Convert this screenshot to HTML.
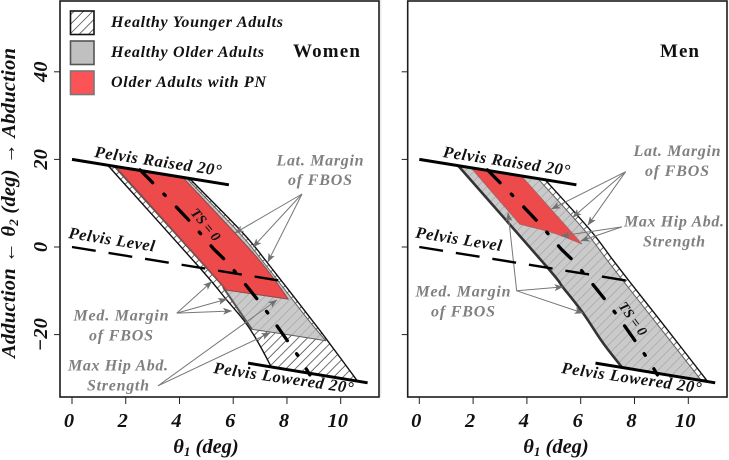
<!DOCTYPE html>
<html lang="en">
<head>
<meta charset="utf-8">
<title>Women and Men Trunk Stability Regions</title>
<style>
html,body{margin:0;padding:0;background:#fff;width:729px;height:460px;overflow:hidden}
svg{display:block}
text{font-family:"Liberation Serif",serif;font-weight:bold;font-style:italic}
.note{fill:#808080;font-size:16px;text-anchor:middle}
.leg{fill:#111;font-size:16px}
.line-label{fill:#111;font-size:16.5px}
.axis-title{fill:#111;font-size:20.5px}
</style>
</head>
<body>
<svg id="chart" width="729" height="460" viewBox="0 0 729 460" xmlns="http://www.w3.org/2000/svg">
<defs>
<pattern id="hatch" width="6.6" height="6.6" patternUnits="userSpaceOnUse" patternTransform="rotate(45)">
<line x1="1" y1="0" x2="1" y2="6.6" stroke="#222" stroke-width="0.65"></line>
</pattern>
<marker id="arrow" markerWidth="10" markerHeight="8" refX="8.5" refY="3.5" orient="auto" markerUnits="userSpaceOnUse">
<path d="M0,0 L9,3.5 L0,7 L2.2,3.5 Z" fill="#707070"></path>
</marker>
</defs>
<rect x="0" y="0" width="729" height="460" fill="#ffffff"></rect>
<rect x="380" y="0" width="1.5" height="397" fill="#ececec"></rect>
<g id="women"></g>
<g id="men"></g>

<g>
<rect x="70.5" y="11" width="23.5" height="23.5" fill="url(#hatch)" stroke="#111" stroke-width="1.6"></rect>
<rect x="70.5" y="41" width="23.5" height="23.5" fill="#c0c0c0" stroke="#555" stroke-width="1.6"></rect>
<rect x="70.5" y="71" width="23.5" height="23.5" fill="#fc5356" stroke="#777" stroke-width="1.6"></rect>
<text class="leg" x="111" y="27" textLength="172">Healthy Younger Adults</text>
<text class="leg" x="111" y="57" textLength="153">Healthy Older Adults</text>
<text class="leg" x="111" y="87" textLength="155">Older Adults with PN</text>
</g>
<text x="293" y="57" font-size="19" fill="#111" textLength="67" style="font-style:normal">Women</text>
<text x="660" y="57" font-size="19" fill="#111" textLength="39" style="font-style:normal">Men</text>

<text class="axis-title" transform="translate(15,203) rotate(-90)" text-anchor="middle" textLength="310">Adduction ← θ<tspan font-size="13" dy="3">2</tspan><tspan dy="-3"> (deg) → Abduction</tspan></text>
<text class="axis-title" x="206" y="453" text-anchor="middle">θ<tspan font-size="13" dy="3">1</tspan><tspan dy="-3"> (deg)</tspan></text>
<text class="axis-title" x="556" y="453" text-anchor="middle">θ<tspan font-size="13" dy="3">1</tspan><tspan dy="-3"> (deg)</tspan></text>

<g>
<text class="line-label" transform="translate(94,157) rotate(8.5)" textLength="128">Pelvis Raised 20°</text>
<text class="line-label" transform="translate(68,238) rotate(9)" textLength="87">Pelvis Level</text>
<text class="line-label" transform="translate(213,373) rotate(8.3)" textLength="141">Pelvis Lowered 20°</text>
<text class="note" x="320" y="165.5" textLength="87">Lat. Margin</text>
<text class="note" x="320" y="185" textLength="64">of FBOS</text>
<text class="note" x="121" y="320.5" textLength="95">Med. Margin</text>
<text class="note" x="121" y="340.5" textLength="64">of FBOS</text>
<text class="note" x="118" y="370.5" textLength="100">Max Hip Abd.</text>
<text class="note" x="118" y="390.5" textLength="62">Strength</text>
<text transform="translate(190,213) rotate(50)" font-size="14" fill="#111" textLength="38">TS = 0</text>
</g>
<g>
<text class="line-label" transform="translate(442.5,157) rotate(8.5)" textLength="128">Pelvis Raised 20°</text>
<text class="line-label" transform="translate(415,237.5) rotate(9)" textLength="87">Pelvis Level</text>
<text class="line-label" transform="translate(561,373) rotate(8.3)" textLength="141">Pelvis Lowered 20°</text>
<text class="note" x="677" y="156" textLength="87">Lat. Margin</text>
<text class="note" x="677" y="176" textLength="64">of FBOS</text>
<text class="note" x="674" y="226.5" textLength="100">Max Hip Abd.</text>
<text class="note" x="674" y="246.5" textLength="62">Strength</text>
<text class="note" x="463" y="296.5" textLength="95">Med. Margin</text>
<text class="note" x="463" y="316.5" textLength="64">of FBOS</text>
<text transform="translate(618,306) rotate(54)" font-size="14" fill="#111" textLength="38">TS = 0</text>
</g>
</svg>
<script>
const xTicks = [0, 2, 4, 6, 8, 10];
const yTicks = [40, 20, 0, -20];
const pelvisRaised = [[0, 20], [5.84, 14.2]];
const pelvisLevel = [[0, 0], [7.74, -7.7]];
const pelvisLowered = [[6.55, -26.5], [11.0, -31.0]];
const tsZero = [[2.53, 17.6], [3.53, 11.4], [4.43, 5.6], [5.28, -0.5], [5.77, -3.4], [6.55, -9.3], [7.06, -13.2], [7.40, -16], [8.2, -23], [8.55, -26], [8.85, -29.2]];

const womenYoungerLeft = [[1.34, 18.6], [4.76, -4.8], [5.69, -11.6], [6.44, -17.1], [6.92, -21.7], [7.41, -27.3]];
const womenYoungerRight = [[4.43, 15.3], [6.33, 3.4], [7.22, -3.2], [8.93, -16.7], [9.49, -21.2], [10.61, -30.5]];
const womenOlderLeft = [[1.60, 18.3], [5.32, -6.8], [5.69, -9.8], [6.69, -18.8]];
const womenOlderBottom = [[6.69, -18.8], [8.11, -20.1], [9.45, -21.4]];
const womenOlderRight = [[4.30, 15.5], [6.20, 3.4], [7.09, -3.2], [8.80, -16.7], [9.45, -21.4]];
const womenPNLeft = [[1.66, 18.1], [5.32, -6.8], [5.69, -9.8]];
const womenPNBottom = [[5.69, -9.8], [8.05, -11.9]];
const womenPNRight = [[4.14, 15.8], [6.86, -2.2], [8.05, -11.9]];

const menYoungerLeft = [[1.44, 18.6], [4.75, -4.6], [5.34, -9.2], [6.09, -15.1], [6.83, -21.9], [7.54, -27.5]];
const menYoungerRight = [[4.67, 15.4], [6.35, 3.9], [7.2, -3], [7.83, -8], [9.2, -18.7], [10.69, -30.5]];
const menOlderLeft = [[1.44, 18.6], [4.75, -4.6], [5.34, -9.2], [6.09, -15.1], [6.83, -21.9], [7.54, -27.5]];
const menOlderBottom = [[7.54, -27.5], [10.45, -30.2]];
const menOlderRight = [[4.41, 15.6], [6.13, 3.9], [6.98, -3], [7.61, -8], [8.98, -18.7], [10.45, -30.2]];
const menPNLeft = [[1.95, 17.9], [3.74, 5.2]];
const menPNBottom = [[3.74, 5.2], [5.0, 3.2], [6.04, 0.7]];
const menPNRight = [[3.81, 16.1], [6.04, 0.7]];

const womenLatFrom = [8.56, 12.1];
const womenLatTo = [[6.07, 3.2], [6.74, 0], [7.29, -3.4]];
const womenMedFrom = [3.9, -15.1];
const womenMedTo = [[5.2, -7.9], [5.76, -11.9], [5.94, -14.6]];
const womenMaxFrom = [3.2, -31.7];
const womenMaxTo = [[7.62, -12.1], [7.37, -19.6]];
const menLatFrom = [7.67, 17.2];
const menLatTo = [[4.92, 8.7], [5.71, 6.8], [6.27, 5]];
const menMaxFrom = [7.53, 4.6];
const menMaxTo = [[5.27, 2.5], [6.01, 1.4]];
const menMedFrom = [3.62, -10];
const menMedTo = [[3.3, 7.8], [5.34, -9.1], [6.09, -15.1]];

const NS = 'http://www.w3.org/2000/svg';

function mk(parent, tag, attrs, txt) {
  const el = document.createElementNS(NS, tag);
  Object.keys(attrs).forEach(function (k) { el.setAttribute(k, attrs[k]); });
  if (txt !== undefined) el.textContent = txt;
  parent.appendChild(el);
  return el;
}

function smoothEdge(p) {
  let d = '';
  for (let i = 0; i < p.length - 1; i++) {
    const a = p[Math.max(i - 1, 0)], b = p[i], c = p[i + 1], e = p[Math.min(i + 2, p.length - 1)];
    const c1x = b[0] + (c[0] - a[0]) / 6, c1y = b[1] + (c[1] - a[1]) / 6;
    const c2x = c[0] - (e[0] - b[0]) / 6, c2y = c[1] - (e[1] - b[1]) / 6;
    d += ' C' + c1x.toFixed(1) + ',' + c1y.toFixed(1) + ' ' + c2x.toFixed(1) + ',' + c2y.toFixed(1) + ' ' + c[0].toFixed(1) + ',' + c[1].toFixed(1);
  }
  return d;
}

function drawPanel(cfg) {
  const g = document.getElementById(cfg.id);
  const sx = function (v) { return cfg.x0 + cfg.xs * v; };
  const sy = function (v) { return 247 - 4.38 * v; };
  const toPx = function (a) { return a.map(function (p) { return [sx(p[0]), sy(p[1])]; }); };
  const pts = function (a) { return toPx(a).map(function (p) { return p[0].toFixed(1) + ',' + p[1].toFixed(1); }).join(' '); };
  const region = function (edges) {
    let d = '';
    edges.forEach(function (edge, i) {
      const px = toPx(edge);
      d += (i === 0 ? 'M' : ' L') + px[0][0].toFixed(1) + ',' + px[0][1].toFixed(1) + smoothEdge(px);
    });
    return d + ' Z';
  };
  const open = function (edge) {
    const px = toPx(edge);
    return 'M' + px[0][0].toFixed(1) + ',' + px[0][1].toFixed(1) + smoothEdge(px);
  };

  const younger = mk(g, 'path', { d: region([cfg.youngerLeft, cfg.youngerRight.slice().reverse()]), fill: 'url(#hatch)', stroke: '#111', 'stroke-width': 1.4, 'stroke-linejoin': 'round' });
  
  

  const older = mk(g, 'path', { d: region([cfg.olderLeft, cfg.olderBottom, cfg.olderRight.slice().reverse()]), fill: 'rgba(190,190,190,0.82)', stroke: '#606060', 'stroke-width': 1, 'stroke-linejoin': 'round' });
  
  

  const olderEdge = mk(g, 'path', { d: open(cfg.olderLeft), fill: 'none', stroke: cfg.olderEdgeColor, 'stroke-width': cfg.olderEdgeWidth });
  
  

  const pn = mk(g, 'path', { d: region([cfg.pnLeft, cfg.pnBottom, cfg.pnRight.slice().reverse()]), fill: 'rgba(240,66,66,0.93)', stroke: cfg.pnStroke, 'stroke-width': 1, 'stroke-linejoin': 'round' });
  
  

  cfg.arrows.forEach(function (set) {
    set.to.forEach(function (t) {
      const a = mk(g, 'line', { x1: sx(set.from[0]), y1: sy(set.from[1]), x2: sx(t[0]), y2: sy(t[1]), stroke: '#777', 'stroke-width': 1, 'marker-end': 'url(#arrow)' });
      
      
    });
  });

  const raised = mk(g, 'polyline', { points: pts(pelvisRaised), fill: 'none', stroke: '#000', 'stroke-width': 3 });
  
  

  const level = mk(g, 'polyline', { points: pts(pelvisLevel), fill: 'none', stroke: '#000', 'stroke-width': 2.4, 'stroke-dasharray': '24 13' });
  
  

  const lowered = mk(g, 'polyline', { points: pts(pelvisLowered), fill: 'none', stroke: '#000', 'stroke-width': 3 });
  
  

  const ts = mk(g, 'polyline', { points: pts(cfg.ts), fill: 'none', stroke: '#000', 'stroke-width': 3.3, 'stroke-linecap': 'round', 'stroke-linejoin': 'round', 'stroke-dasharray': '18 16 2 16' });
  
  

  const frame = mk(g, 'rect', { x: cfg.left, y: 1, width: cfg.right - cfg.left, height: 396, fill: 'none', stroke: '#1c1c1c', 'stroke-width': 1.6 });
  
  

  xTicks.forEach(function (v) {
    const t = mk(g, 'line', { x1: sx(v), x2: sx(v), y1: 397, y2: 404, stroke: '#222', 'stroke-width': 1 });
    
    
    const l = mk(g, 'text', { x: sx(v) - 3, y: 427, 'text-anchor': 'middle', 'font-size': 20.5, fill: '#111' }, String(v));
    
    
  });

  yTicks.forEach(function (v) {
    const t = mk(g, 'line', { x1: cfg.left - 6, x2: cfg.left, y1: sy(v), y2: sy(v), stroke: '#222', 'stroke-width': 1 });
    
    
    if (cfg.yLabels) {
      const l = mk(g, 'text', { transform: 'translate(47,' + sy(v) + ') rotate(-90)', 'text-anchor': 'middle', 'font-size': 20.5, fill: '#111' }, v < 0 ? '\u2212' + Math.abs(v) : String(v));
      
      
    }
  });
}

drawPanel({
  id: 'women', x0: 72, xs: 26.87, left: 60, right: 379, yLabels: true,
  youngerLeft: womenYoungerLeft, youngerRight: womenYoungerRight,
  olderLeft: womenOlderLeft, olderBottom: womenOlderBottom, olderRight: womenOlderRight,
  pnLeft: womenPNLeft, pnBottom: womenPNBottom, pnRight: womenPNRight, ts: tsZero,
  olderEdgeColor: '#555', olderEdgeWidth: 2, pnStroke: '#8a4a4a',
  arrows: [
    { from: womenLatFrom, to: womenLatTo },
    { from: womenMedFrom, to: womenMedTo },
    { from: womenMaxFrom, to: womenMaxTo }
  ]
});

drawPanel({
  id: 'men', x0: 419.3, xs: 26.9, left: 407.7, right: 727, yLabels: false,
  youngerLeft: menYoungerLeft, youngerRight: menYoungerRight,
  olderLeft: menOlderLeft, olderBottom: menOlderBottom, olderRight: menOlderRight,
  pnLeft: menPNLeft, pnBottom: menPNBottom, pnRight: menPNRight, ts: tsZero,
  olderEdgeColor: '#333', olderEdgeWidth: 2.6, pnStroke: '#b06060',
  arrows: [
    { from: menLatFrom, to: menLatTo },
    { from: menMaxFrom, to: menMaxTo },
    { from: menMedFrom, to: menMedTo }
  ]
});
</script>
</body>
</html>
